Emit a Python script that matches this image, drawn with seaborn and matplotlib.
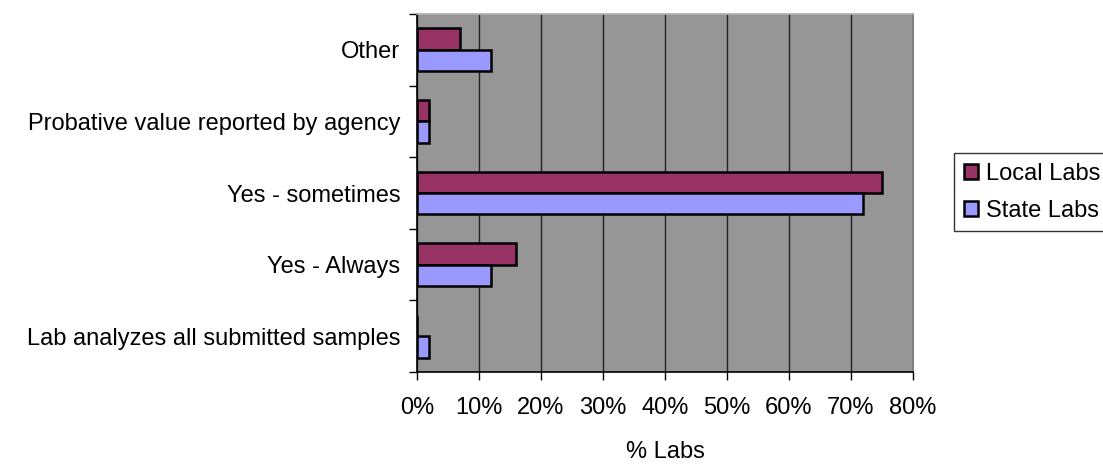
import matplotlib
matplotlib.use("Agg")
import matplotlib.pyplot as plt
import seaborn as sns
import pandas as pd
from matplotlib.ticker import FixedLocator, PercentFormatter
from matplotlib.patches import Patch

categories = [
    "Other",
    "Probative value reported by agency",
    "Yes - sometimes",
    "Yes - Always",
    "Lab analyzes all submitted samples",
]
local_labs = [7, 2, 75, 16, 0]
state_labs = [12, 2, 72, 12, 2]
series_names = ["Local Labs", "State Labs"]
series_colors = ["#993366", "#9999FF"]
x_ticks = [0, 10, 20, 30, 40, 50, 60, 70, 80]

df = pd.DataFrame({
    "category": categories * 2,
    "value": local_labs + state_labs,
    "series": [series_names[0]] * len(categories) + [series_names[1]] * len(categories),
})

sns.set_theme(style="white")
plt.rcParams["font.family"] = ["Liberation Sans", "DejaVu Sans"]
plt.rcParams["text.color"] = "black"
FS = 17

fig = plt.figure(figsize=(11.03, 4.72), dpi=100)
ax = fig.add_axes([417 / 1103, 1 - 372 / 472, (913 - 417) / 1103, (372 - 14) / 472])
ax.set_facecolor("#969696")

sns.barplot(
    data=df, y="category", x="value", hue="series",
    order=categories, hue_order=series_names,
    palette=series_colors, orient="h", width=0.6,
    edgecolor="black", linewidth=1.8, saturation=1,
    legend=False, ax=ax, zorder=3,
)

ax.set_xlim(0, 80)
ax.set_ylim(len(categories) - 0.5, -0.5)
ax.xaxis.set_major_locator(FixedLocator(x_ticks))
ax.xaxis.set_major_formatter(PercentFormatter(decimals=0))
ax.grid(axis="x", color="#222222", linewidth=1.0, zorder=1)
ax.set_axisbelow(True)

# Category labels centred on each band; tick marks on band boundaries
ax.tick_params(axis="y", which="major", length=0, pad=12, labelsize=FS, colors="black")
ax.set_yticks(range(len(categories)), minor=False)
ax.set_yticks([i - 0.5 for i in range(len(categories) + 1)], minor=True)
ax.tick_params(axis="y", which="minor", length=6, width=1, color="black", direction="out", left=True)
ax.tick_params(axis="x", which="major", length=6, width=1, color="black", direction="out",
               bottom=True, pad=12, labelsize=FS, labelcolor="black")

for side in ("left", "bottom"):
    ax.spines[side].set_color("black")
    ax.spines[side].set_linewidth(1.2)
ax.spines["top"].set_color("#b0b0b0")
ax.spines["right"].set_color("#808080")
ax.spines["right"].set_linewidth(1.5)

ax.set_ylabel("")
ax.set_xlabel("% Labs", fontsize=FS, labelpad=16, color="black")

handles = [Patch(facecolor=c, edgecolor="black", linewidth=1.8) for c in series_colors]
fig.legend(
    handles, series_names, loc="upper left",
    bbox_to_anchor=(954 / 1103, 1 - 153 / 472),
    fontsize=FS, frameon=True, fancybox=False, edgecolor="black",
    handlelength=0.6, handleheight=0.6, handletextpad=0.35,
    borderpad=0.42, labelspacing=0.62, borderaxespad=0,
)

fig.savefig("out.png", dpi=100)
